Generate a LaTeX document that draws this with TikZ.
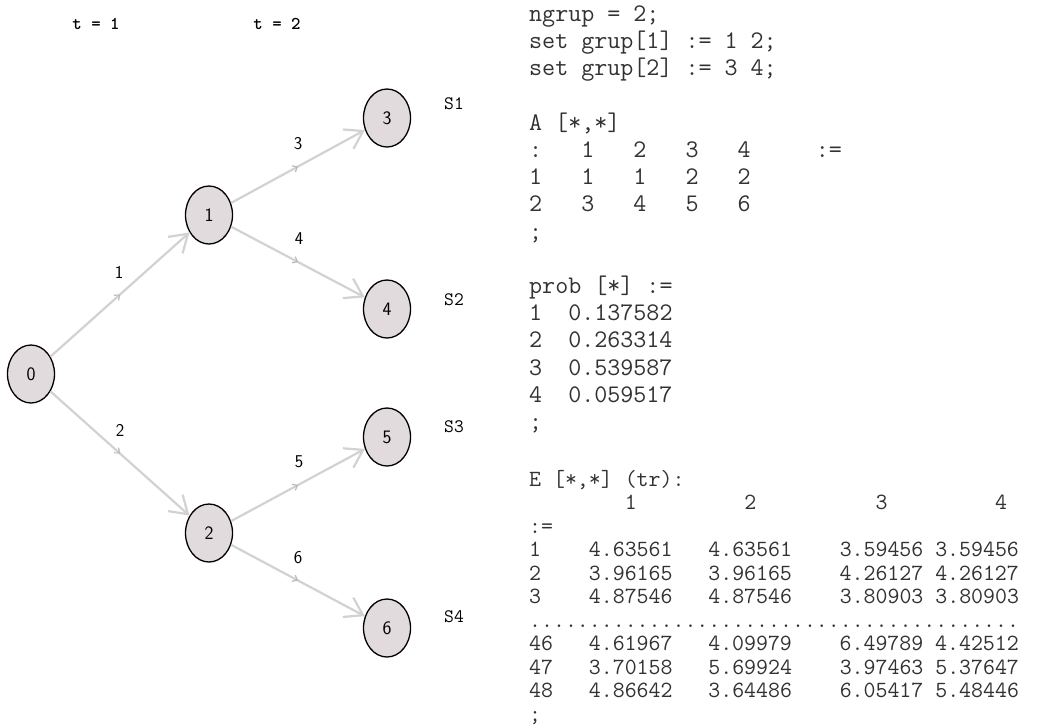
\documentclass[tikz,border=0pt]{standalone}
\usetikzlibrary{arrows.meta,shapes.geometric,decorations.markings}
\definecolor{nodefill}{RGB}{226,219,222}
\definecolor{edgegray}{RGB}{210,210,210}
\definecolor{markgray}{RGB}{185,185,185}
\definecolor{txtgray}{RGB}{50,50,50}
\begin{document}
\begin{tikzpicture}[x=1pt,y=-1pt,
  tnode/.style={ellipse, draw=black, line width=1.3pt, fill=nodefill,
    minimum width=47pt, minimum height=58pt, inner sep=0pt,
    font=\sffamily\fontsize{19}{19}\selectfont},
  conn/.style={draw=edgegray, line width=2.2pt,
    -{Straight Barb[length=17pt,width=22pt,line width=2.2pt]},
    postaction={decorate},
    decoration={markings, mark=at position 0.5 with
      {\arrow[markgray]{Straight Barb[length=4pt,width=7pt,line width=1.2pt]}}}},
  elab/.style={inner sep=0pt, font=\sffamily\fontsize{18}{18}\selectfont},
  slab/.style={inner sep=0pt, font=\ttfamily\fontsize{19}{19}\selectfont},
  tlab/.style={inner sep=0pt, font=\ttfamily\bfseries\fontsize{18}{18}\selectfont},
  code/.style={anchor=base west, inner sep=0pt, text=txtgray,
    font=\ttfamily\fontsize{25.3}{27}\selectfont},
  tab/.style={anchor=base west, inner sep=0pt, text=txtgray,
    font=\ttfamily\fontsize{23.2}{24}\selectfont}]
\useasboundingbox (0,0) rectangle (1041,726);
\fill[white] (0,0) rectangle (1041,726);

% time labels
\node[tlab] (t1) at (96,24) {t = 1};
\node[tlab] (t2) at (277,24) {t = 2};

% tree nodes
\node[tnode] (n0) at (31,374) {0};
\node[tnode] (n1) at (209,215) {1};
\node[tnode] (n2) at (209,533) {2};
\node[tnode] (n3) at (387,118) {3};
\node[tnode] (n4) at (387,309) {4};
\node[tnode] (n5) at (387,437) {5};
\node[tnode] (n6) at (387,628) {6};

% arcs
\draw[conn] (n0) -- (n1);
\draw[conn] (n0) -- (n2);
\draw[conn] (n1) -- (n3);
\draw[conn] (n1) -- (n4);
\draw[conn] (n2) -- (n5);
\draw[conn] (n2) -- (n6);

% arc labels
\node[elab] (a1) at (119,272) {1};
\node[elab] (a2) at (120,430) {2};
\node[elab] (a3) at (298,144) {3};
\node[elab] (a4) at (299,239) {4};
\node[elab] (a5) at (299,462) {5};
\node[elab] (a6) at (298,558) {6};

% scenario labels
\node[slab] (s1) at (454,104) {S1};
\node[slab] (s2) at (454,300) {S2};
\node[slab] (s3) at (454,427) {S3};
\node[slab] (s4) at (454,617) {S4};

% data text
\node[code] (c0)  at (529,21.5)  {ngrup = 2;};
\node[code] (c1)  at (529,48.7)  {set grup[1] := 1 2;};
\node[code] (c2)  at (529,75.9)  {set grup[2] := 3 4;};
\node[code] (c4)  at (529,130.3) {A [*,*]};
\node[code] (c5)  at (529,157.5) {:~~~1~~~2~~~3~~~4~~~~~:=};
\node[code] (c6)  at (529,184.7) {1~~~1~~~1~~~2~~~2};
\node[code] (c7)  at (529,211.9) {2~~~3~~~4~~~5~~~6};
\node[code] (c8)  at (529,239.1) {;};
\node[code] (c10) at (529,293.5) {prob [*] :=};
\node[code] (c11) at (529,320.7) {1~~0.137582};
\node[code] (c12) at (529,347.9) {2~~0.263314};
\node[code] (c13) at (529,375.1) {3~~0.539587};
\node[code] (c14) at (529,402.3) {4~~0.059517};
\node[code] (c15) at (529,429.5) {;};

\node[tab] (e0)  at (529,486.5) {E [*,*] (tr):};
\node[tab] (e1)  at (529,509.95) {~~~~~~~~1~~~~~~~~~2~~~~~~~~~~3~~~~~~~~~4};
\node[tab] (e2)  at (529,533.4) {:=};
\node[tab] (e3)  at (529,556.85) {1~~~~4.63561~~~4.63561~~~~3.59456~3.59456};
\node[tab] (e4)  at (529,580.3) {2~~~~3.96165~~~3.96165~~~~4.26127~4.26127};
\node[tab] (e5)  at (529,603.75) {3~~~~4.87546~~~4.87546~~~~3.80903~3.80903};
\node[tab] (e6)  at (529,627.2) {.........................................};
\node[tab] (e7)  at (529,650.65) {46~~~4.61967~~~4.09979~~~~6.49789~4.42512};
\node[tab] (e8)  at (529,674.1) {47~~~3.70158~~~5.69924~~~~3.97463~5.37647};
\node[tab] (e9)  at (529,697.55) {48~~~4.86642~~~3.64486~~~~6.05417~5.48446};
\node[tab] (e10) at (529,721.0) {;};
\end{tikzpicture}
\end{document}
